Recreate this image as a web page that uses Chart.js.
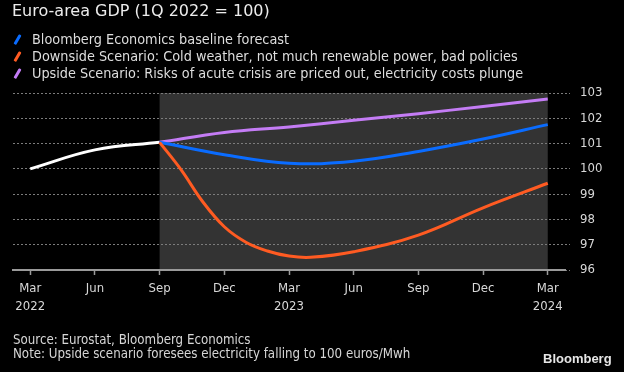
<!DOCTYPE html>
<html>
<head>
<meta charset="utf-8">
<script src="https://cdn.jsdelivr.net/npm/chart.js@4/dist/chart.umd.min.js"></script>
<style>
  html, body { margin: 0; padding: 0; background: #000; }
  body { width: 624px; height: 372px; position: relative; overflow: hidden; font-family: "DejaVu Sans Condensed", "DejaVu Sans", sans-serif; }
  #chart { position: absolute; left: 0; top: 0; }
  .title { position: absolute; left: 12px; top: 1px; font-family: "DejaVu Sans", sans-serif; font-size: 16px; line-height: 20px; color: #ececec; white-space: nowrap; }
  .legend { position: absolute; left: 0; top: 31px; font-size: 14.3px; line-height: 17px; color: #dedede; white-space: nowrap; }
  .legend div { position: relative; padding-left: 32px; }
  .legend span { position: absolute; left: 16px; top: 3px; width: 2.6px; height: 11px; border-radius: 1px; transform: rotate(30deg); }
  .footer { position: absolute; left: 13px; top: 333px; font-size: 13.2px; line-height: 14px; color: #d6d6d6; white-space: nowrap; }
  .logo { position: absolute; left: 543px; top: 351px; font-family: "Liberation Sans", Arial, sans-serif; font-weight: bold; font-size: 13px; line-height: 16px; color: #e6e6e6; }
</style>
</head>
<body>
<canvas id="chart" width="624" height="372"></canvas>
<div class="title">Euro-area GDP (1Q 2022 = 100)</div>
<div class="legend" id="legend"></div>
<div class="footer">Source: Eurostat, Bloomberg Economics<br>Note: Upside scenario foresees electricity falling to 100 euros/Mwh</div>
<div class="logo">Bloomberg</div>
<script>
// months counted from March 2022 (0) to March 2024 (24)
const tickMonths = [0, 3, 6, 9, 12, 15, 18, 21, 24];
const tickLabels = [['Mar', '2022'], ['Jun'], ['Sep'], ['Dec'], ['Mar', '2023'], ['Jun'], ['Sep'], ['Dec'], ['Mar', '2024']];

const historyMonths = [0, 3, 6];
const historyValues = [100.0, 100.75, 101.05];

const baselineMonths = [6, 9, 12, 15, 18, 21, 24];
const baselineValues = [101.05, 100.56, 100.22, 100.3, 100.69, 101.18, 101.75];

const downsideMonths = [6, 7, 8, 9, 10, 11, 12, 13, 15, 18, 21, 24];
const downsideValues = [101.05, 99.96, 98.7, 97.71, 97.1, 96.75, 96.55, 96.5, 96.72, 97.38, 98.46, 99.43];

const upsideMonths = [6, 9, 12, 15, 18, 21, 24];
const upsideValues = [101.05, 101.44, 101.66, 101.92, 102.18, 102.47, 102.76];

const legendNames = [
  'Bloomberg Economics baseline forecast',
  'Downside Scenario: Cold weather, not much renewable power, bad policies',
  'Upside Scenario: Risks of acute crisis are priced out, electricity costs plunge'
];
const legendColors = ['#0a6cff', '#ff5b22', '#c47cf5'];

const forecastStart = 6;
const forecastEnd = 24;

function toPoints(months, values) {
  return months.map((m, i) => ({ x: m, y: values[i] }));
}

// legend (custom, slanted markers like the original)
document.getElementById('legend').innerHTML = legendNames
  .map((name, i) => '<div><span style="background:' + legendColors[i] + '"></span>' + name + '</div>')
  .join('');

// grey box behind the forecast period
const shadePlugin = {
  id: 'shade',
  beforeDraw(chart) {
    const x = chart.scales.x, y = chart.scales.y, ctx = chart.ctx;
    const left = x.getPixelForValue(forecastStart);
    const right = x.getPixelForValue(forecastEnd);
    const top = y.getPixelForValue(y.max);
    const bottom = y.getPixelForValue(y.min);
    ctx.save();
    ctx.fillStyle = '#333333';
    ctx.fillRect(left, top, right - left, bottom - top);
    ctx.restore();
  }
};

const lineStyle = { borderWidth: 3, pointRadius: 0, tension: 0.4, fill: false };

new Chart(document.getElementById('chart'), {
  type: 'line',
  data: {
    datasets: [
      Object.assign({ label: legendNames[1], data: toPoints(downsideMonths, downsideValues), borderColor: legendColors[1] }, lineStyle),
      Object.assign({ label: legendNames[0], data: toPoints(baselineMonths, baselineValues), borderColor: legendColors[0] }, lineStyle),
      Object.assign({ label: legendNames[2], data: toPoints(upsideMonths, upsideValues), borderColor: legendColors[2] }, lineStyle),
      Object.assign({ label: 'History', data: toPoints(historyMonths, historyValues), borderColor: '#ffffff' }, lineStyle)
    ]
  },
  options: {
    responsive: false,
    animation: false,
    layout: { padding: { left: 13, top: 93, right: 0, bottom: 52 } },
    plugins: { legend: { display: false }, tooltip: { enabled: false } },
    scales: {
      x: {
        type: 'linear',
        min: -0.8,
        max: 24.8,
        afterBuildTicks: axis => { axis.ticks = tickMonths.map(v => ({ value: v })); },
        afterFit: axis => { axis.height = 50; },
        grid: { drawOnChartArea: false, drawTicks: true, tickLength: 5, tickColor: '#9a9a9a', tickWidth: 1.5 },
        border: { color: '#9a9a9a', width: 2 },
        ticks: {
          autoSkip: false,
          maxRotation: 0,
          padding: 5,
          color: '#d8d8d8',
          font: { family: '"DejaVu Sans Condensed", "DejaVu Sans", sans-serif', size: 13, lineHeight: 1.38 },
          callback: (value, index) => tickLabels[index]
        }
      },
      y: {
        position: 'right',
        min: 96,
        max: 103,
        afterFit: axis => { axis.width = 59; },
        grid: { color: '#7c7c7c', lineWidth: 1, tickLength: 5, tickColor: '#7c7c7c', tickBorderDash: [2, 2] },
        border: { display: false, dash: [2, 2] },
        ticks: {
          stepSize: 1,
          padding: 10,
          color: '#d8d8d8',
          font: { family: '"DejaVu Sans Condensed", "DejaVu Sans", sans-serif', size: 13 }
        }
      }
    }
  },
  plugins: [shadePlugin]
});
</script>
</body>
</html>
